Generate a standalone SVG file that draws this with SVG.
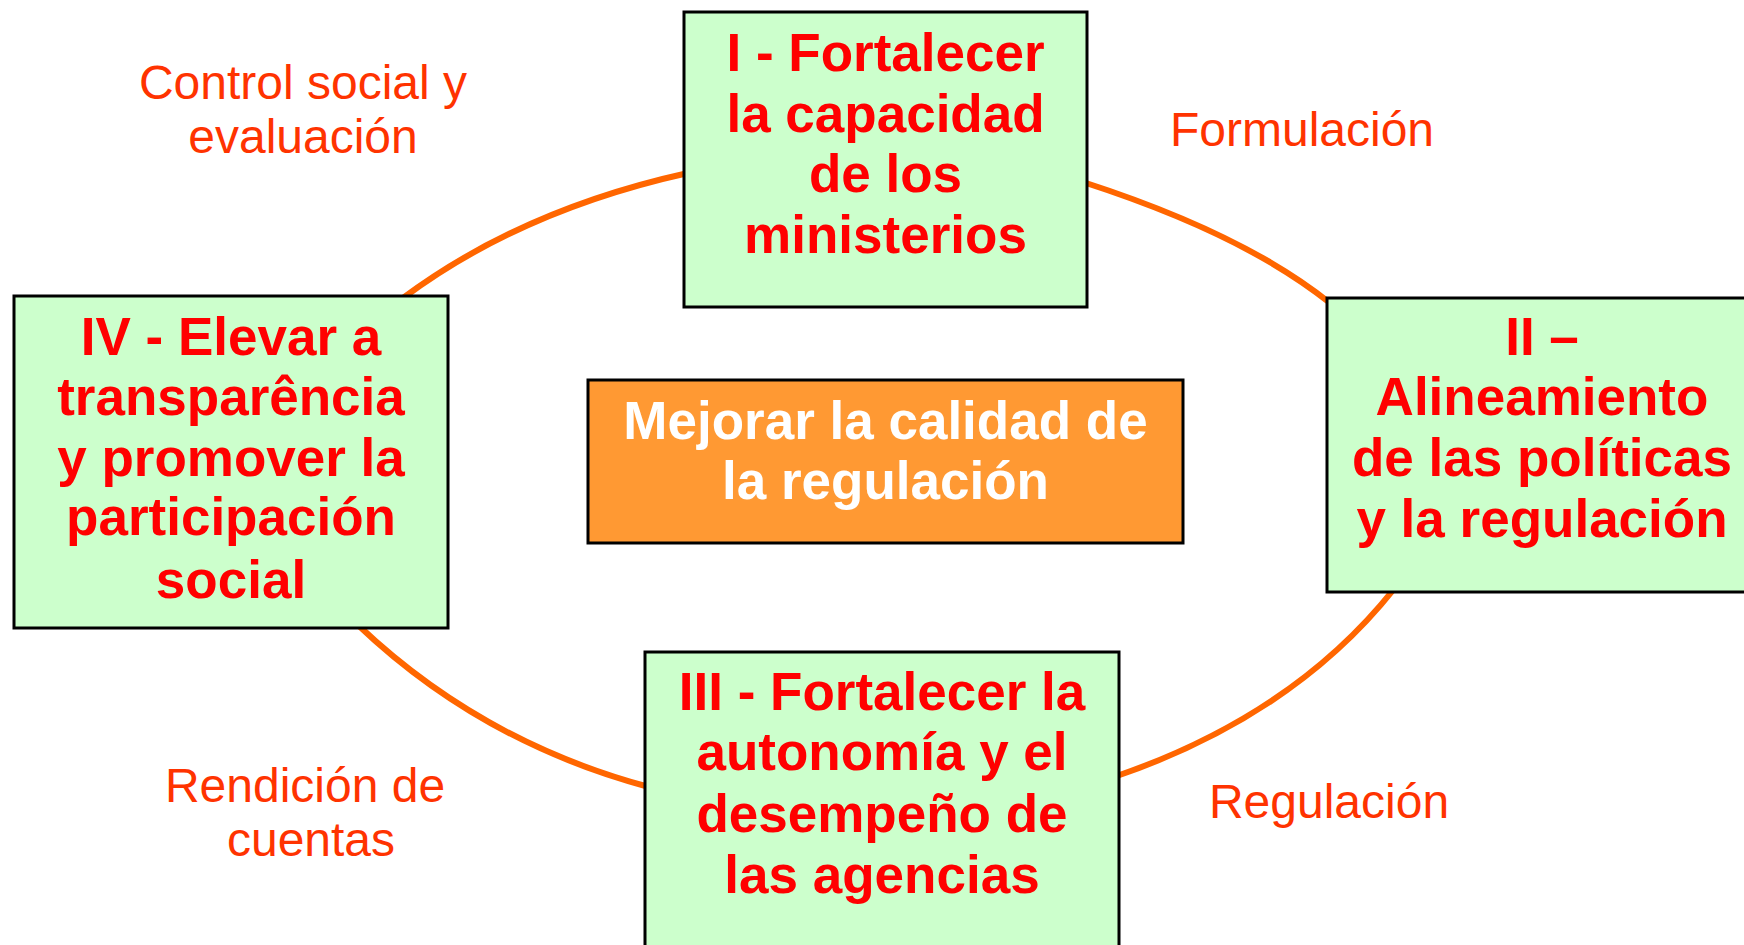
<svg xmlns="http://www.w3.org/2000/svg" width="1744" height="945" viewBox="0 0 1744 945">
<style>
.box{fill:#CCFFCC;stroke:#000;stroke-width:3}
.core{fill:#FF9933;stroke:#000;stroke-width:3}
.t{font-family:"Liberation Sans",Arial,sans-serif;font-weight:bold;font-size:53px;fill:#FF0000;text-anchor:middle}
.w{font-family:"Liberation Sans",Arial,sans-serif;font-weight:bold;font-size:53px;fill:#FFFFFF;text-anchor:middle}
.lbl{font-family:"Liberation Sans",Arial,sans-serif;font-size:48px;fill:#FF3300;text-anchor:middle}
.arc{fill:none;stroke:#FF6600;stroke-width:6}
</style>
<rect width="1744" height="945" fill="#FFFFFF"/>
<g id="connectors">
<path class="arc" d="M403,298 Q521,210 688,173"/>
<path class="arc" d="M1083,182 Q1244,234 1330,303"/>
<path class="arc" d="M1394,589 Q1293,716 1114,777"/>
<path class="arc" d="M358,625 Q481,742 649,787"/>
</g>
<g id="labels">
<text class="lbl" x="303" y="99">Control social y</text>
<text class="lbl" x="303" y="153">evaluación</text>
<text class="lbl" x="1302" y="146">Formulación</text>
<text class="lbl" x="305" y="802">Rendición de</text>
<text class="lbl" x="311" y="856">cuentas</text>
<text class="lbl" x="1329" y="818">Regulación</text>
</g>
<g id="node-I">
<rect class="box" x="684" y="12" width="403" height="295"/>
<text class="t" x="885.5" y="71">I - Fortalecer</text>
<text class="t" x="885.5" y="132">la capacidad</text>
<text class="t" x="885.5" y="192">de los</text>
<text class="t" x="885.5" y="253">ministerios</text>
</g>
<g id="node-II">
<rect class="box" x="1327" y="298" width="432" height="294"/>
<text class="t" x="1542" y="355">II –</text>
<text class="t" x="1542" y="415">Alineamiento</text>
<text class="t" x="1542" y="476">de las políticas</text>
<text class="t" x="1542" y="537">y la regulación</text>
</g>
<g id="node-III">
<rect class="box" x="645" y="652" width="474" height="310"/>
<text class="t" x="882" y="710">III - Fortalecer la</text>
<text class="t" x="882" y="770">autonomía y el</text>
<text class="t" x="882" y="832">desempeño de</text>
<text class="t" x="882" y="893">las agencias</text>
</g>
<g id="node-IV">
<rect class="box" x="14" y="296" width="434" height="332"/>
<text class="t" x="231" y="355">IV - Elevar a</text>
<text class="t" x="231" y="415">transparência</text>
<text class="t" x="231" y="476">y promover la</text>
<text class="t" x="231" y="535">participación</text>
<text class="t" x="231" y="598">social</text>
</g>
<g id="node-core">
<rect class="core" x="588" y="380" width="595" height="163"/>
<text class="w" x="885.5" y="439">Mejorar la calidad de</text>
<text class="w" x="885.5" y="499">la regulación</text>
</g>
</svg>
